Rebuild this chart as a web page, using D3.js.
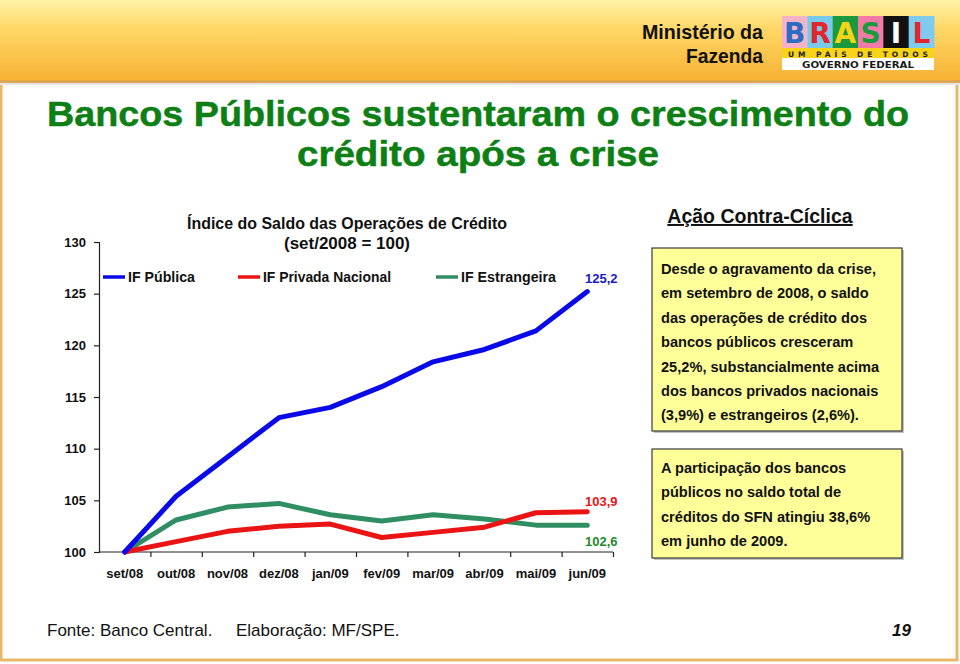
<!DOCTYPE html>
<html><head><meta charset="utf-8">
<script src="https://cdn.jsdelivr.net/npm/d3@7"></script>
<style>
html,body{margin:0;padding:0;background:#fff;}
svg{display:block;font-family:"Liberation Sans",Arial,sans-serif;}
</style></head>
<body>
<svg id="c" width="960" height="664"></svg>
<script>
const months = ["set/08","out/08","nov/08","dez/08","jan/09","fev/09","mar/09","abr/09","mai/09","jun/09"];
const publica = [100,105.4,109.2,113.0,114.0,116.0,118.4,119.6,121.4,125.2];
const privada = [100,101.0,102.0,102.5,102.7,101.4,101.9,102.4,103.8,103.9];
const estrangeira = [100,103.1,104.35,104.7,103.6,103.0,103.6,103.2,102.6,102.6];
const seriesNames = ["IF Pública","IF Privada Nacional","IF Estrangeira"];
const seriesColors = ["#0a0ae8","#ea1414","#2f8f63"];
const labelColors = ["#1a1ad0","#ea1414","#1f8a2a"];
const endLabels = ["125,2","103,9","102,6"];
const yTicks = [100,105,110,115,120,125,130];

const svg = d3.select("#c");

// ---- slide frame & header
const defs = svg.append("defs");
const g1 = defs.append("linearGradient").attr("id","hdr").attr("x1",0).attr("y1",0).attr("x2",0).attr("y2",1);
g1.append("stop").attr("offset","0%").attr("stop-color","#fff2a8");
g1.append("stop").attr("offset","35%").attr("stop-color","#ffd766");
g1.append("stop").attr("offset","100%").attr("stop-color","#f6b133");
svg.append("rect").attr("x",0).attr("y",0).attr("width",960).attr("height",664).attr("fill","#fff");
svg.append("rect").attr("x",1).attr("y",82).attr("width",956).attr("height",578).attr("fill","none").attr("stroke","#e8b76a").attr("stroke-width",3);
svg.append("rect").attr("x",0).attr("y",0).attr("width",960).attr("height",82).attr("fill","url(#hdr)");
svg.append("rect").attr("x",0).attr("y",80).attr("width",960).attr("height",3).attr("fill","#d9a455").attr("opacity",0.8);
svg.append("rect").attr("x",0).attr("y",83).attr("width",960).attr("height",2).attr("fill","#e6e6e6");

const hdrFont = '"Liberation Sans Narrow","Liberation Sans",Arial,sans-serif';
svg.append("text").attr("x",763).attr("y",39).attr("text-anchor","end").attr("font-family",hdrFont)
  .attr("font-weight","bold").attr("font-size",21).attr("fill","#111")
  .attr("textLength",121).attr("lengthAdjust","spacingAndGlyphs").text("Ministério da");
svg.append("text").attr("x",763).attr("y",63).attr("text-anchor","end").attr("font-family",hdrFont)
  .attr("font-weight","bold").attr("font-size",21).attr("fill","#111")
  .attr("textLength",77).attr("lengthAdjust","spacingAndGlyphs").text("Fazenda");

// logo
const logo = svg.append("g").attr("transform","translate(782,16)");
logo.append("rect").attr("width",152).attr("height",54).attr("fill","#fff");
const letters = [["B","#2b6cc4","#f7b3c6"],["R","#e1262d","#79c9ea"],["A","#f7d417","#1a9a3c"],["S","#1a9a3c","#f27aa8"],["I","#fff","#111"],["L","#e1262d","#7fcbee"]];
const lw = 152/6;
letters.forEach((l,i)=>{
  logo.append("rect").attr("x",i*lw).attr("y",0).attr("width",lw+0.5).attr("height",32).attr("fill",l[2]);
  logo.append("text").attr("x",i*lw+lw/2).attr("y",27).attr("text-anchor","middle").attr("font-family","'DejaVu Sans',sans-serif")
    .attr("font-weight","bold").attr("font-size",28).attr("fill",l[1]).text(l[0]);
});
logo.append("rect").attr("x",0).attr("y",32).attr("width",152).attr("height",10).attr("fill","#f7d417");
logo.append("text").attr("x",76).attr("y",40.5).attr("text-anchor","middle").attr("font-family","'DejaVu Sans',sans-serif")
  .attr("font-weight","bold").attr("font-size",7.5).attr("fill","#1a1a1a")
  .attr("textLength",140).attr("lengthAdjust","spacing").text("UM PAÍS DE TODOS");
logo.append("text").attr("x",76).attr("y",52).attr("text-anchor","middle").attr("font-family","'DejaVu Sans Condensed','DejaVu Sans',sans-serif")
  .attr("font-weight","bold").attr("font-size",9.5).attr("fill","#1a1a1a")
  .attr("textLength",112).attr("lengthAdjust","spacingAndGlyphs").text("GOVERNO FEDERAL");

// title
svg.append("text").attr("x",478).attr("y",126).attr("text-anchor","middle").attr("font-weight","bold")
  .attr("font-size",35).attr("fill","#0d7f14").attr("stroke","#0d7f14").attr("stroke-width",0.5)
  .attr("textLength",862).attr("lengthAdjust","spacingAndGlyphs").text("Bancos Públicos sustentaram o crescimento do");
svg.append("text").attr("x",478).attr("y",166).attr("text-anchor","middle").attr("font-weight","bold")
  .attr("font-size",35).attr("fill","#0d7f14").attr("stroke","#0d7f14").attr("stroke-width",0.5)
  .attr("textLength",362).attr("lengthAdjust","spacingAndGlyphs").text("crédito após a crise");

// ---- chart
const x0 = 99, x1 = 613, yTop = 242, yBot = 552;
const x = d3.scaleBand().domain(months).range([x0,x1]).padding(0);
const xi = d3.scaleLinear().domain([0,months.length]).range([x0,x1]);
const y = d3.scaleLinear().domain([100,130]).range([yBot,yTop]);

const chart = svg.append("g");
// y axis
const yAx = chart.append("g").attr("transform",`translate(${x0},0)`)
  .call(d3.axisLeft(y).tickValues(yTicks).tickSize(5).tickPadding(8).tickFormat(d3.format("d")));
yAx.select(".domain").attr("stroke","#222").attr("stroke-width",1.2);
yAx.selectAll(".tick line").attr("stroke","#222").attr("stroke-width",1.2);
yAx.selectAll("text").attr("font-family","'Liberation Sans',Arial,sans-serif").attr("font-size",13).attr("font-weight","bold").attr("fill","#111");

// x axis: tick marks at band boundaries, labels at centres
const xTickAx = chart.append("g").attr("transform",`translate(0,${yBot})`)
  .call(d3.axisBottom(xi).tickValues(d3.range(1,months.length+1)).tickSize(5).tickFormat(""));
xTickAx.select(".domain").attr("stroke","#222").attr("stroke-width",1.2).attr("d",`M${x0},0H${x1}`);
xTickAx.selectAll(".tick line").attr("stroke","#222").attr("stroke-width",1.2);
const xLab = chart.append("g").attr("transform",`translate(0,${yBot})`)
  .call(d3.axisBottom(x).tickSize(0).tickPadding(17));
xLab.select(".domain").remove();
xLab.selectAll("text").attr("font-family","'Liberation Sans',Arial,sans-serif").attr("font-size",13).attr("font-weight","bold").attr("fill","#111");

// lines
const allSeries = [publica, privada, estrangeira];
const line = d3.line().x((d,i)=>x(months[i])+x.bandwidth()/2).y(d=>y(d));
[2,1,0].forEach(k=>{
  chart.append("path").datum(allSeries[k]).attr("d",line).attr("fill","none")
    .attr("stroke",seriesColors[k]).attr("stroke-width",5).attr("stroke-linejoin","round").attr("stroke-linecap","round");
});

// end labels
const lastX = x(months[months.length-1])+x.bandwidth()/2;
const labOffsets = [-9, -6, 21];
[0,1,2].forEach(k=>{
  const v = allSeries[k][allSeries[k].length-1];
  chart.append("text").attr("x",lastX+14).attr("y",y(v)+labOffsets[k]).attr("text-anchor","middle")
    .attr("font-size",13).attr("font-weight","bold").attr("fill",labelColors[k]).text(endLabels[k]);
});

// chart title
const ctFont = "'Liberation Sans Narrow','Liberation Sans',Arial,sans-serif";
chart.append("text").attr("x",347).attr("y",229).attr("text-anchor","middle").attr("font-family",ctFont)
  .attr("font-size",16.5).attr("font-weight","bold").attr("fill","#111")
  .attr("textLength",320).attr("lengthAdjust","spacingAndGlyphs").text("Índice do Saldo das Operações de Crédito");
chart.append("text").attr("x",347).attr("y",249).attr("text-anchor","middle").attr("font-family",ctFont)
  .attr("font-size",16.5).attr("font-weight","bold").attr("fill","#111")
  .attr("textLength",126).attr("lengthAdjust","spacingAndGlyphs").text("(set/2008 = 100)");

// legend
const legX = [103,238,436];
const legW = [67,128,95];
seriesNames.forEach((n,k)=>{
  chart.append("line").attr("x1",legX[k]).attr("x2",legX[k]+22).attr("y1",277).attr("y2",277)
    .attr("stroke",seriesColors[k]).attr("stroke-width",3.5);
  chart.append("text").attr("x",legX[k]+25).attr("y",282).attr("font-family",ctFont)
    .attr("font-size",14.5).attr("font-weight","bold").attr("fill","#111")
    .attr("textLength",legW[k]).attr("lengthAdjust","spacingAndGlyphs").text(n);
});

// ---- right panel
svg.append("text").attr("x",760).attr("y",223).attr("text-anchor","middle").attr("font-size",19.5)
  .attr("font-weight","bold").attr("fill","#111").attr("text-decoration","underline").text("Ação Contra-Cíclica");

function box(x0,y0,w,h,lines,startY){
  svg.append("rect").attr("x",x0+2).attr("y",y0+2).attr("width",w).attr("height",h).attr("fill","#888").attr("opacity",0.5);
  svg.append("rect").attr("x",x0).attr("y",y0).attr("width",w).attr("height",h).attr("fill","#ffff99")
    .attr("stroke","#3a3a3a").attr("stroke-width",1.2);
  lines.forEach((t,i)=>{
    svg.append("text").attr("x",x0+9).attr("y",startY+i*24.4).attr("font-size",14.6).attr("font-weight","bold")
      .attr("fill","#111").text(t);
  });
}
box(652,248,250,183,["Desde o agravamento da crise,","em setembro de 2008, o saldo","das operações de crédito dos","bancos públicos cresceram","25,2%, substancialmente acima","dos bancos privados nacionais","(3,9%) e estrangeiros (2,6%)."],274);
box(652,449,250,109,["A participação dos bancos","públicos no saldo total de","créditos do SFN atingiu 38,6%","em junho de 2009."],473);

// footer
svg.append("text").attr("x",47).attr("y",636).attr("font-family",hdrFont).attr("font-size",17).attr("fill","#111").text("Fonte: Banco Central.");
svg.append("text").attr("x",236).attr("y",636).attr("font-family",hdrFont).attr("font-size",17).attr("fill","#111").text("Elaboração: MF/SPE.");
svg.append("text").attr("x",911).attr("y",636).attr("text-anchor","end").attr("font-family",hdrFont).attr("font-size",17)
  .attr("font-style","italic").attr("font-weight","bold").attr("fill","#111").text("19");
</script>
</body></html>
